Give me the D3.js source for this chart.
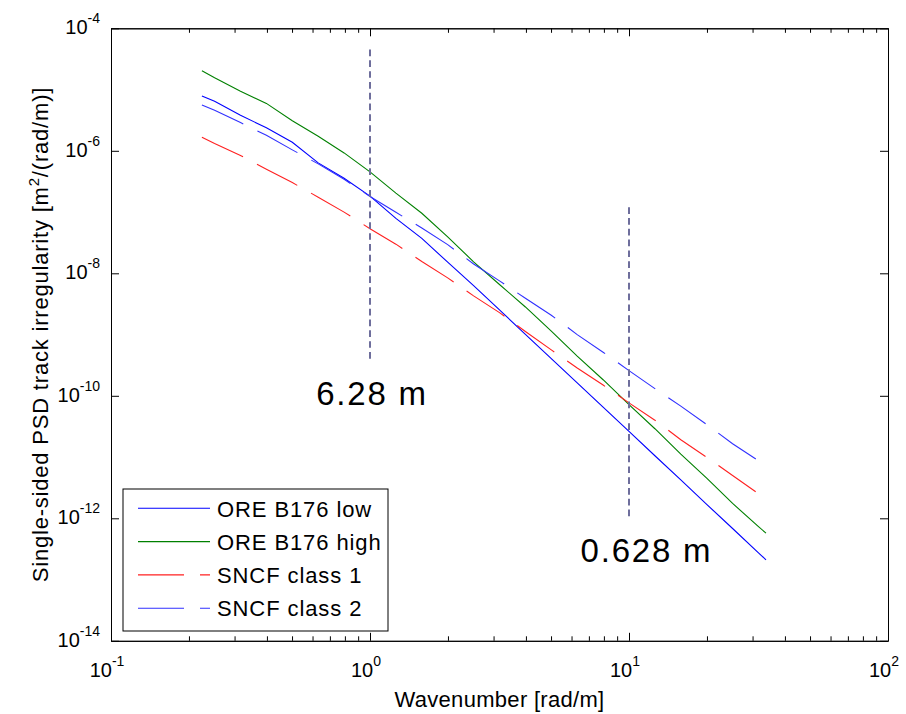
<!DOCTYPE html>
<html>
<head>
<meta charset="utf-8">
<script src="https://cdn.jsdelivr.net/npm/d3@7"></script>
<style>
  html, body { margin: 0; padding: 0; background: #fff; }
  svg { display: block; font-family: "Liberation Sans", Arial, Helvetica, sans-serif; }
</style>
</head>
<body>
<svg id="chart" width="906" height="714"></svg>
<script>
// ---- data ----
const wavenumber = [0.2244, 0.2512, 0.3162, 0.3981, 0.5012, 0.6310, 0.7943, 1.000, 1.259, 1.585, 1.995, 2.512,
                    3.162, 3.981, 5.012, 6.310, 7.943, 10.00, 12.59, 15.85, 19.95, 25.12, 31.62, 33.80];
const oreLow  = [7.85e-6, 6.44e-6, 3.82e-6, 2.37e-6, 1.38e-6, 6.35e-7, 3.57e-7, 1.82e-7, 7.89e-8, 3.71e-8, 1.52e-8, 6.27e-9,
                 2.52e-9, 1.01e-9, 4.05e-10, 1.63e-10, 6.52e-11, 2.62e-11, 1.05e-11, 4.23e-12, 1.69e-12, 6.81e-13, 2.73e-13, 2.10e-13];
const oreHigh = [2.03e-5, 1.56e-5, 9.38e-6, 5.94e-6, 3.10e-6, 1.73e-6, 9.23e-7, 4.52e-7, 2.04e-7, 9.57e-8, 3.94e-8, 1.54e-8,
                 6.56e-9, 2.82e-9, 1.135e-9, 4.45e-10, 1.83e-10, 7.16e-11, 2.90e-11, 1.114e-11, 4.52e-12, 1.75e-12, 7.31e-13, 5.73e-13];
const sncf1   = [1.66e-6, 1.31e-6, 8.39e-7, 5.01e-7, 3.03e-7, 1.75e-7, 9.98e-8, 5.35e-8, 2.99e-8, 1.56e-8, 8.43e-9, 4.28e-9,
                 2.28e-9, 1.12e-9, 5.62e-10, 2.84e-10, 1.50e-10, 7.66e-11, 4.00e-11, 1.92e-11, 9.89e-12, 5.01e-12, 2.52e-12, 2.06e-12];
const sncf2   = [5.60e-6, 4.60e-6, 2.89e-6, 1.79e-6, 1.035e-6, 6.12e-7, 3.43e-7, 1.80e-7, 9.93e-8, 5.48e-8, 2.94e-8, 1.42e-8,
                 7.52e-9, 3.91e-9, 2.07e-9, 9.98e-10, 5.15e-10, 2.58e-10, 1.31e-10, 6.79e-11, 3.39e-11, 1.65e-11, 8.73e-12, 7.26e-12];
const seriesNames = ["ORE B176 low", "ORE B176 high", "SNCF class 1", "SNCF class 2"];

const xMajor = [0.1, 1, 10, 100];
const xMajorExp = ["-1", "0", "1", "2"];
const xMinor = [0.2, 0.3, 0.4, 0.5, 0.6, 0.7, 0.8, 0.9, 2, 3, 4, 5, 6, 7, 8, 9, 20, 30, 40, 50, 60, 70, 80, 90];
const yMajor = [1e-4, 1e-6, 1e-8, 1e-10, 1e-12, 1e-14];
const yMajorExp = ["-4", "-6", "-8", "-10", "-12", "-14"];

// wavelength markers: x position, vertical extent, label
const markerK = [1, 10];
const markerTop = [4.5e-5, 1.2e-7];
const markerBottom = [3.9e-10, 9.3e-13];
const markerLabel = ["6.28 m", "0.628 m"];
const markerLabelX = [0.62, 6.5];
const markerLabelY = [7.1e-11, 1.95e-13];

// ---- layout ----
const L = 111, R = 888, T = 28.3, B = 640.8;
const svg = d3.select("#chart");
const x = d3.scaleLog().domain([0.1, 100]).range([L, R]);
const y = d3.scaleLog().domain([1e-14, 1e-4]).range([B, T]);

const styles = [
  { color: "#0000ff", dash: null },
  { color: "#008000", dash: null },
  { color: "#ff2020", dash: "45.5,15.8" },
  { color: "#3030ff", dash: "45.5,15.8" }
];
const allSeries = [oreLow, oreHigh, sncf1, sncf2];

// ---- axes ----
function axisG(axis, tx, ty) {
  const g = svg.append("g").attr("transform", `translate(${tx},${ty})`).call(axis);
  g.selectAll("text").remove();
  g.selectAll("path.domain").attr("stroke", "#000").attr("stroke-width", 1);
  g.selectAll(".tick line").attr("stroke", "#000").attr("stroke-width", 1);
  return g;
}
axisG(d3.axisBottom(x).tickValues(xMajor).tickSizeInner(-8).tickSizeOuter(0), 0, B);
axisG(d3.axisBottom(x).tickValues(xMinor).tickSizeInner(-4.5).tickSizeOuter(0), 0, B);
axisG(d3.axisTop(x).tickValues(xMajor).tickSizeInner(-8).tickSizeOuter(0), 0, T);
axisG(d3.axisTop(x).tickValues(xMinor).tickSizeInner(-4.5).tickSizeOuter(0), 0, T);
axisG(d3.axisLeft(y).tickValues(yMajor).tickSizeInner(-8).tickSizeOuter(0), L, 0);
axisG(d3.axisRight(y).tickValues(yMajor).tickSizeInner(-8).tickSizeOuter(0), R, 0);

// tick labels
xMajor.forEach((v, i) => {
  const t = svg.append("text").attr("x", x(v) - 4).attr("y", 677).attr("text-anchor", "middle")
    .attr("font-size", 20).attr("fill", "#000");
  t.append("tspan").text("10");
  t.append("tspan").attr("dy", -11).attr("font-size", 14).text(xMajorExp[i]);
});
yMajor.forEach((v, i) => {
  const t = svg.append("text").attr("x", 100).attr("y", y(v) + 6).attr("text-anchor", "end")
    .attr("font-size", 20).attr("fill", "#000");
  t.append("tspan").text("10");
  t.append("tspan").attr("dy", -11).attr("font-size", 14).text(yMajorExp[i]);
});

// axis titles
svg.append("text").attr("x", (L + R) / 2).attr("y", 707).attr("text-anchor", "middle")
  .attr("font-size", 22).attr("letter-spacing", 0.3).text("Wavenumber [rad/m]");
const yl = svg.append("text").attr("transform", `translate(48,${(T + B) / 2}) rotate(-90)`)
  .attr("text-anchor", "middle").attr("font-size", 22).attr("letter-spacing", 0.8);
yl.append("tspan").text("Single-sided PSD track irregularity [m");
yl.append("tspan").attr("dy", -9).attr("font-size", 15).text("2");
yl.append("tspan").attr("dy", 9).text("/(rad/m)]");

// ---- series ----
const line = d3.line().x(d => x(d[0])).y(d => y(d[1]));
allSeries.forEach((vals, i) => {
  const pts = wavenumber.map((k, j) => [k, vals[j]]);
  svg.append("path").datum(pts).attr("d", line).attr("fill", "none")
    .attr("stroke", styles[i].color).attr("stroke-width", 1.1)
    .attr("stroke-dasharray", styles[i].dash);
});

// ---- wavelength markers ----
markerK.forEach((k, i) => {
  svg.append("line").attr("x1", x(k)).attr("x2", x(k))
    .attr("y1", y(markerTop[i])).attr("y2", y(markerBottom[i]))
    .attr("stroke", "#6e6e9c").attr("stroke-width", 2).attr("stroke-dasharray", "6.7,4.1");
  svg.append("text").attr("x", x(markerLabelX[i])).attr("y", y(markerLabelY[i]))
    .attr("font-size", 33).attr("letter-spacing", 1.8).text(markerLabel[i]);
});

// ---- legend ----
const lg = svg.append("g");
lg.append("rect").attr("x", 123).attr("y", 489).attr("width", 265).attr("height", 142)
  .attr("fill", "#fff").attr("stroke", "#000").attr("stroke-width", 1);
seriesNames.forEach((name, i) => {
  const cy = 508.3 + i * 33.3;
  lg.append("line").attr("x1", 138).attr("x2", 210).attr("y1", cy).attr("y2", cy)
    .attr("stroke", styles[i].color).attr("stroke-width", 1.1)
    .attr("stroke-dasharray", styles[i].dash ? "46,16" : null);
  lg.append("text").attr("x", 217).attr("y", cy + 8.2).attr("font-size", 22)
    .attr("letter-spacing", 0.9).text(name);
});
</script>
</body>
</html>
